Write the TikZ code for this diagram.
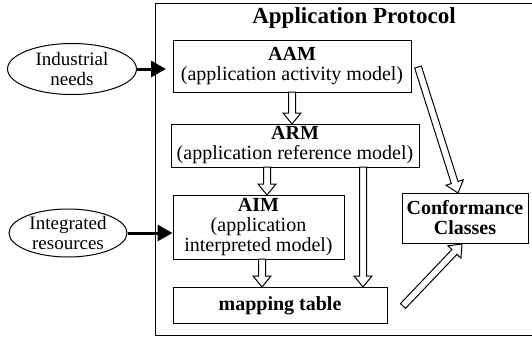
\documentclass[tikz,border=0pt]{standalone}
\usepackage{fontspec}
\setmainfont{Liberation Serif}
\usetikzlibrary{calc,shapes.geometric,arrows.meta}
\tikzset{
  box/.style={draw, line width=1pt, inner sep=0pt, align=center, font=\fontsize{20}{20}\selectfont},
  oval/.style={draw, ellipse, line width=1pt, inner sep=0pt, align=center, font=\fontsize{19}{20}\selectfont},
  feed/.style={line width=3pt, -{Triangle[length=15pt,width=16pt]}},
  hollow/.style={draw, fill=white, line width=1pt, line join=miter}
}
\newcommand\hollowarrow[2]{%
  \coordinate (hb) at ($(#2)!11pt!(#1)$);
  \path[hollow] ($(#1)!3.5pt!90:(#2)$) -- ($(hb)!3.5pt!90:(#2)$) -- ($(hb)!9pt!90:(#2)$) -- (#2)
    -- ($(hb)!9pt!-90:(#2)$) -- ($(hb)!3.5pt!-90:(#2)$) -- ($(#1)!3.5pt!-90:(#2)$) -- cycle;
}
\begin{document}
\begin{tikzpicture}[x=1pt,y=-1pt]
\useasboundingbox (0,0) rectangle (532,337);
% outer frame (right edge lies beyond the picture)
\draw[line width=1pt] (532,4) -- (155,4) -- (155,335) -- (532,335);
\node[font=\fontsize{23}{24}\selectfont\bfseries] (title) at (354,18) {Application Protocol};

\node[box, minimum width=238pt, minimum height=51pt] (aam) at (292,66.5) {\textbf{AAM}\\(application activity model)};
\node[box, minimum width=248pt, minimum height=43pt] (arm) at (295,145.5) {\textbf{ARM}\\(application reference model)};
\node[box, minimum width=171pt, minimum height=64pt, font=\fontsize{20}{20}\selectfont] (aim) at (258.5,227) {\textbf{AIM}\\(application\\interpreted model)};
\node[box, minimum width=214pt, minimum height=36pt] (map) at (280,305.5) {\textbf{mapping table}};
\node[box, minimum width=126pt, minimum height=50pt] (conf) at (465,218) {\textbf{Conformance}\\\textbf{Classes}};

\node[oval, minimum width=129pt, minimum height=51pt] (ind) at (72,69) {Industrial\\needs};
\node[oval, minimum width=118pt, minimum height=48pt] (int) at (68,233) {Integrated\\resources};

\coordinate (e1) at (166,69);
\draw[feed] (ind.east) -- (e1);
\draw[feed] (int.east) -- (int.east -| aim.west);

% hollow arrows
\coordinate (a1) at (292,92);   \coordinate (b1) at (292,124);
\coordinate (a2) at (267,167);  \coordinate (b2) at (267,195);
\coordinate (a3) at (262,259);  \coordinate (b3) at (262,287);
\coordinate (a4) at (363,167);  \coordinate (b4) at (363,287);
\coordinate (a5) at (418,67);   \coordinate (b5) at (458,193);
\coordinate (a6) at (403,306);  \coordinate (b6) at (462,244);
\hollowarrow{a1}{b1}
\hollowarrow{a2}{b2}
\hollowarrow{a3}{b3}
\hollowarrow{a4}{b4}
\hollowarrow{a5}{b5}
\hollowarrow{a6}{b6}
\end{tikzpicture}
\end{document}
